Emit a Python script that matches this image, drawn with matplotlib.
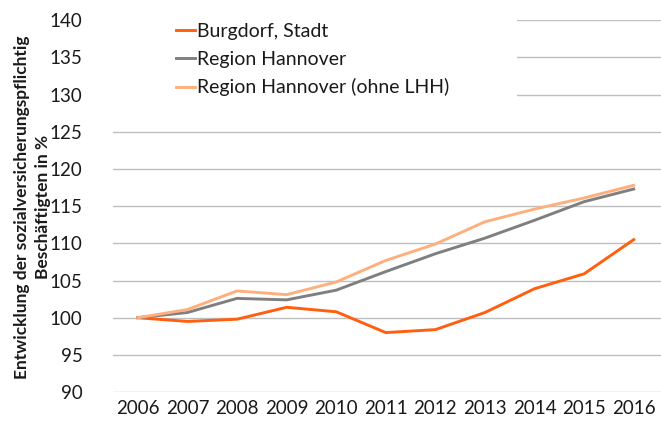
import matplotlib
matplotlib.use("Agg")
import matplotlib.pyplot as plt
from matplotlib.patches import Rectangle

years = ["2006", "2007", "2008", "2009", "2010", "2011", "2012", "2013", "2014", "2015", "2016"]
burgdorf = [100.0, 99.5, 99.8, 101.4, 100.8, 98.0, 98.4, 100.7, 103.9, 105.9, 110.5]
region = [100.0, 100.7, 102.6, 102.4, 103.7, 106.2, 108.6, 110.7, 113.1, 115.6, 117.3]
region_ohne = [100.0, 101.1, 103.6, 103.1, 104.8, 107.7, 109.9, 112.9, 114.6, 116.1, 117.8]
labels = ["Burgdorf, Stadt", "Region Hannover", "Region Hannover (ohne LHH)"]
yticks = [90, 95, 100, 105, 110, 115, 120, 125, 130, 135, 140]

plt.rcParams['font.family'] = ['Lato', 'DejaVu Sans']

fig = plt.figure(figsize=(6.61, 4.29), dpi=100)
ax = fig.add_axes([0.171, 0.086, 0.829, 0.867])

x = list(range(len(years)))
ax.plot(x, burgdorf, color="#FF5F0F", lw=2.1, label=labels[0], zorder=3)
ax.plot(x, region, color="#7F7F7F", lw=2.1, label=labels[1], zorder=3)
ax.plot(x, region_ohne, color="#FDB07E", lw=2.1, label=labels[2], zorder=3)

ax.set_xlim(-0.5, len(years) - 0.45)
ax.set_ylim(90, 140)
ax.set_yticks(yticks)
ax.set_xticks(x)
ax.set_xticklabels(years)
ax.grid(axis="y", color="#BFBFBF", lw=1.0)
ax.set_axisbelow(True)
for s in ax.spines.values():
    s.set_visible(False)
ax.tick_params(axis="both", length=0, labelsize=13.5, colors="#1a1a1a", pad=6)
ax.tick_params(axis="y", pad=22)

# white legend area masking gridlines
ax.add_patch(Rectangle((-0.02, 0.75), 0.757, 0.27, transform=ax.transAxes,
                       facecolor="white", edgecolor="none", zorder=2, clip_on=False))

fig.text(22 / 661, 1 - 207 / 429, "Entwicklung der sozialversicherungspflichtig",
         rotation=90, ha="center", va="center", fontsize=12.5, fontweight="bold",
         color="#1a1a1a")
fig.text(43 / 661, 1 - 207 / 429, "Beschäftigten in %",
         rotation=90, ha="center", va="center", fontsize=12.5, fontweight="bold",
         color="#1a1a1a")

leg = ax.legend(loc="upper left", bbox_to_anchor=(0.104, 1.008), frameon=False,
                fontsize=14, handlelength=1.0, handletextpad=0.1, labelspacing=0.55,
                borderpad=0.3, borderaxespad=0.0)
for t in leg.get_texts():
    t.set_color("#1a1a1a")

fig.savefig("out.png", dpi=100)
